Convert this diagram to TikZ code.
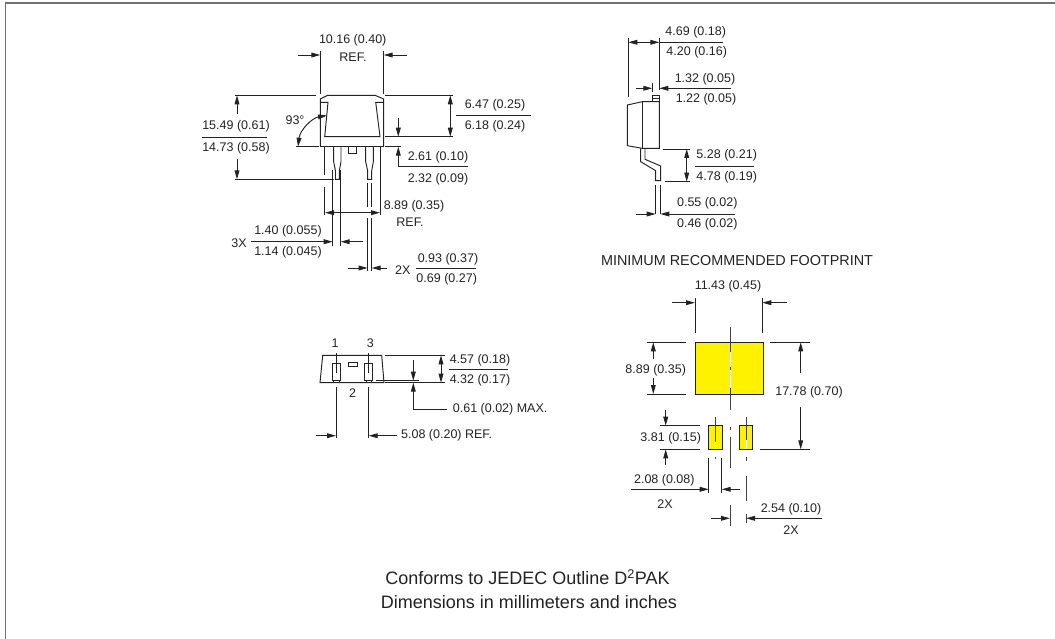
\documentclass[tikz,border=0pt]{standalone}
\usepackage{fontspec}
\setmainfont{Liberation Sans}
\usetikzlibrary{arrows.meta}
\definecolor{ink}{HTML}{222222}
\tikzset{
  ln/.style={draw=ink,line width=0.95pt},
  ar/.style={ln,-{Triangle[length=9pt,width=4.8pt]}},
  ad/.style={ln,{Triangle[length=9pt,width=4.8pt]}-{Triangle[length=9pt,width=4.8pt]}},
  cl/.style={draw=ink!85,line width=0.95pt},
  wh/.style={draw=white,line width=1pt},
  fr/.style={draw=black!55,line width=1.8pt},
  tx/.style={text=ink,inner sep=0pt,font=\fontsize{12.5}{14}\selectfont},
  txl/.style={tx,anchor=west},
  mid/.style={text=ink,inner sep=0pt,font=\fontsize{14.4}{16}\selectfont},
  big/.style={text=ink,inner sep=0pt,font=\fontsize{18}{20}\selectfont},
}
\begin{document}
\begin{tikzpicture}[x=1pt,y=-1pt]
\useasboundingbox (0,0) rectangle (1055,639);
\draw[fr] (5.5,639) -- (5.5,2.7) -- (1055,2.7);

% --- front view: body
\draw[ln] (320.3,146.7) -- (320.3,99) -- (327.7,95.3) -- (375,95.3) -- (383.7,99) -- (383.7,146.7);
\draw[ln] (320.3,102.3) -- (328,102.3) -- (324.7,136.7) -- (380,136.7) -- (375.7,102.3) -- (383.7,102.3);
\draw[ln] (320.3,146.7) -- (383.7,146.7);
\draw[ln] (348.3,146.7) rectangle (356.7,153.3);
% leads
\draw[ln] (333.7,146.7) -- (333.7,161.7) -- (335.5,171) -- (335.5,179.3) -- (339.3,179.3) -- (339.3,171) -- (341,161.7) -- (341,146.7);
\draw[ln] (365.7,146.7) -- (365.7,161.7) -- (367.7,171) -- (367.7,179.3) -- (371.7,179.3) -- (371.7,171) -- (373.3,161.7) -- (373.3,146.7);
% ext lines
\draw[ln] (320.3,50.7) -- (320.3,94);
\draw[ln] (383.7,50.7) -- (383.7,94);
\draw[ln] (324.7,146.7) -- (324.7,175) (324.7,187) -- (324.7,215);
\draw[ln] (380,146.7) -- (380,215);
\draw[ln] (332.7,170) -- (332.7,246);
\draw[ln] (340.7,170) -- (340.7,246);
\draw[ln] (367.7,183.3) -- (367.7,206.7) (367.7,217.7) -- (367.7,270.7);
\draw[ln] (371.7,183.3) -- (371.7,206.7) (371.7,217.7) -- (371.7,270.7);
% 10.16
\draw[ar] (298,55) -- (320.3,55);
\draw[ar] (406.7,55) -- (383.7,55);
\node[tx] (ta) at (352.7,40.7) {10.16 (0.40)};
\node[tx] (tb) at (353,57.7) {REF.};
% 15.49
\draw[ln] (235,95.3) -- (316,95.3);
\draw[ln] (385,95.3) -- (453,95.3);
\draw[ln] (235,179.3) -- (334,179.3);
\draw[ar] (237,114) -- (237,95.3);
\draw[ar] (237,159.3) -- (237,179.3);
\node[tx] (tc) at (236,126.7) {15.49 (0.61)};
\draw[ln] (202,137.3) -- (266.7,137.3);
\node[tx] (td) at (236,148.7) {14.73 (0.58)};
% 93
\draw[ln] (296,146.7) -- (319,146.7);
\draw[ad] (327,115.5) .. controls (312,118) and (300,130) .. (298,146.7);
\node[tx] (te) at (295,120) {93°};
% 6.47
\draw[ln] (385,136.7) -- (453,136.7);
\draw[ad] (450.3,95.3) -- (450.3,136.7);
\node[tx] (tf) at (495,105) {6.47 (0.25)};
\draw[ln] (455.7,115) -- (531,115);
\node[tx] (tg) at (495,126) {6.18 (0.24)};
% 2.61
\draw[ln] (385,146.7) -- (401,146.7);
\draw[ar] (398.3,118.3) -- (398.3,136.7);
\draw[ar] (398.3,166.7) -- (398.3,146.7);
\draw[ln] (398.3,166.7) -- (468,166.7);
\node[tx] (th) at (438,157.3) {2.61 (0.10)};
\node[tx] (ti) at (438,179) {2.32 (0.09)};
% 8.89
\draw[ad] (325,212.7) -- (380,212.7);
\node[tx] (tj) at (414,206.7) {8.89 (0.35)};
\node[tx] (tk) at (410,221.7) {REF.};
% 1.40
\draw[ar] (250.7,241.7) -- (332.7,241.7);
\draw[ar] (363,241.7) -- (340.7,241.7);
\node[tx] (tl) at (288,231.7) {1.40 (0.055)};
\node[tx] (tm) at (288,252.7) {1.14 (0.045)};
\node[tx] (tn) at (239,242.7) {3X};
% 0.93
\draw[ar] (348,268) -- (367.7,268);
\draw[ar] (386.7,268) -- (371.7,268);
\node[tx] (to) at (402.7,270) {2X};
\node[tx] (tp) at (448,259) {0.93 (0.37)};
\draw[ln] (416,268) -- (476,268);
\node[tx] (tq) at (446.7,279) {0.69 (0.27)};

% --- end view
\draw[ln] (322.7,355.3) -- (381.7,355.3) -- (384,382.7) -- (320,382.7) -- cycle;
\draw[ln] (332.3,363.3) rectangle (340,380);
\draw[ln] (333.3,380) rectangle (339,382.7);
\draw[ln] (364.7,363.3) rectangle (372.7,380);
\draw[ln] (366,380) rectangle (371.3,382.7);
\draw[ln] (348.7,362) rectangle (357.3,366);
\draw[ln] (336,353.3) -- (336,373) (336,386.7) -- (336,437.7);
\draw[ln] (368.7,353.3) -- (368.7,373) (368.7,386.7) -- (368.7,437.7);
\node[tx] (tr) at (335,343) {1};
\node[tx] (ts) at (370.3,343) {3};
\node[tx] (tt) at (352.7,393.3) {2};
\draw[ln] (385,355.3) -- (445,355.3);
\draw[ln] (385,382.7) -- (445,382.7);
\draw[ln] (376,380.7) -- (418.7,380.7);
\draw[ad] (441,355.3) -- (441,382.7);
\node[tx] (tu) at (480,360) {4.57 (0.18)};
\draw[ln] (449.3,369.3) -- (508,369.3);
\node[tx] (tv) at (480,380) {4.32 (0.17)};
\draw[ar] (413.3,360) -- (413.3,380.7);
\draw[ar] (413.3,409) -- (413.3,382.7);
\draw[ln] (413.3,409) -- (447.3,409);
\node[txl] (tw) at (452.7,409) {0.61 (0.02) MAX.};
\draw[ar] (316,435.7) -- (336,435.7);
\draw[ar] (396.7,435.7) -- (368.7,435.7);
\node[txl] (tx1) at (401,435.7) {5.08 (0.20) REF.};

% --- side view
\draw[ln] (652.3,95.3) rectangle (659.3,101.7);
\draw[ln] (652.3,98) -- (659.3,98);
\draw[ln] (627.3,145.7) -- (627.3,105) -- (642.3,101.7) -- (659.3,101.7) -- (659.3,148.3) -- (642.3,148.3) -- cycle;
\draw[ln] (642.3,101.7) -- (642.3,148.3);
\draw[ln] (640.7,148.3) -- (640.7,161.7) -- (655.7,170.7) -- (655.7,180.7) -- (660.7,180.7) -- (660.7,166) -- (645,159.3) -- (645,148.3);
\draw[ln] (628.3,38.3) -- (628.3,97.3);
\draw[ln] (659.3,38.3) -- (659.3,90);
\draw[ad] (628.3,42.3) -- (659.3,42.3);
\draw[ln] (659.3,42.3) -- (722.7,42.3);
\node[tx] (ua) at (695.7,32.7) {4.69 (0.18)};
\node[tx] (ub) at (696.7,52.7) {4.20 (0.16)};
\draw[ln] (652.3,82.7) -- (652.3,91.7);
\draw[ar] (636,88.3) -- (652.3,88.3);
\draw[ar] (730.7,88.3) -- (659.3,88.3);
\node[tx] (uc) at (705,79.3) {1.32 (0.05)};
\node[tx] (ud) at (706,99) {1.22 (0.05)};
\draw[ln] (663.3,149) -- (690,149);
\draw[ln] (665,181.7) -- (690,181.7);
\draw[ad] (686.7,149) -- (686.7,181.7);
\node[tx] (ue) at (726.7,155) {5.28 (0.21)};
\draw[ln] (695,166) -- (754.3,166);
\node[tx] (uf) at (726.7,177.7) {4.78 (0.19)};
\draw[ln] (655.7,185) -- (655.7,214.3);
\draw[ln] (660.3,185) -- (660.3,214.3);
\draw[ar] (636,214) -- (655.7,214);
\draw[ar] (735,214) -- (660.3,214);
\node[tx] (ug) at (707.3,203.3) {0.55 (0.02)};
\node[tx] (uh) at (707.3,224.3) {0.46 (0.02)};

% --- footprint
\node[mid] (va) at (737,261) {MINIMUM RECOMMENDED FOOTPRINT};
\node[tx] (vb) at (728,286) {11.43 (0.45)};
\draw[ln] (695,298) -- (695,333.3);
\draw[ln] (762.3,298) -- (762.3,333.3);
\draw[ar] (671.7,302.7) -- (695,302.7);
\draw[ar] (786.7,302.7) -- (762.3,302.7);
\draw[ln,fill=yellow] (695.3,342.3) rectangle (763.3,394);
\draw[ln,fill=yellow] (708.3,425.7) rectangle (722.3,449.3);
\draw[ln,fill=yellow] (739.3,425.7) rectangle (752.7,449.3);
% centre lines
\draw[cl] (730,326.7) -- (730,351.7) (730,366.7) -- (730,370) (730,388) -- (730,410) (730,426.7) -- (730,430) (730,436.7) -- (730,468.3) (730,505) -- (730,526);
\draw[wh] (730,351.7) -- (730,366.7) (730,370) -- (730,388);
\draw[cl] (715.7,417.3) -- (715.7,441.7) (715.7,456.7) -- (715.7,459.3);
\draw[wh] (715.7,441.7) -- (715.7,449);
\draw[cl] (746,417.3) -- (746,440) (746,456.7) -- (746,460.7) (746,476) -- (746,500.7) (746,514) -- (746,523);
\draw[wh] (746,440) -- (746,449);
% 8.89
\draw[ln] (646.7,342.3) -- (685.7,342.3);
\draw[ln] (646.7,394) -- (685.7,394);
\draw[ar] (653.3,359) -- (653.3,342.3);
\draw[ar] (653.3,377.7) -- (653.3,394);
\node[tx] (vc) at (655.7,370) {8.89 (0.35)};
% 17.78
\draw[ln] (770,342.3) -- (810,342.3);
\draw[ln] (760,449.3) -- (810,449.3);
\draw[ar] (800.7,373.3) -- (800.7,342.3);
\draw[ar] (800.7,407.3) -- (800.7,449.3);
\node[tx] (vd) at (809,392.7) {17.78 (0.70)};
% 3.81
\draw[ln] (660,425.7) -- (700,425.7);
\draw[ln] (660,449.3) -- (700,449.3);
\draw[ar] (665.7,410) -- (665.7,425.7);
\draw[ar] (665.7,465) -- (665.7,449.3);
\node[tx] (ve) at (670.7,438.3) {3.81 (0.15)};
% 2.08
\draw[ln] (708.7,458.3) -- (708.7,493.3);
\draw[ln] (721.7,458.3) -- (721.7,493.3);
\draw[ar] (631,489.3) -- (708.7,489.3);
\draw[ar] (740,489.3) -- (721.7,489.3);
\node[tx] (vf) at (664.3,480.3) {2.08 (0.08)};
\node[tx] (vg) at (665,504) {2X};
% 2.54
\draw[ar] (711,518.3) -- (730,518.3);
\draw[ar] (822.3,518.3) -- (746,518.3);
\node[tx] (vh) at (791,509.3) {2.54 (0.10)};
\node[tx] (vi) at (791,530) {2X};

% --- caption
\node[big] (ca) at (527.5,577) {Conforms to JEDEC Outline D\textsuperscript{2}PAK};
\node[big] (cb) at (529,602) {Dimensions in millimeters and inches};
\end{tikzpicture}
\end{document}
